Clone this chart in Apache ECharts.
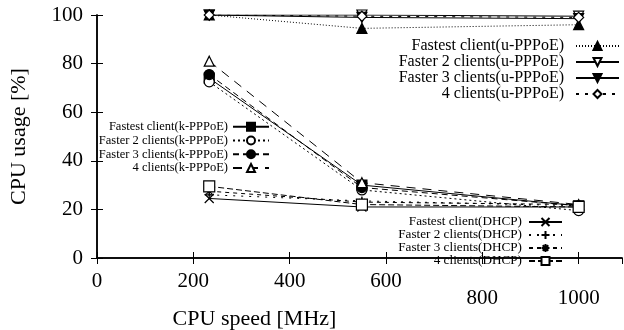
<!DOCTYPE html>
<html>
<head>
<meta charset="utf-8">
<script src="https://cdn.jsdelivr.net/npm/echarts@6/dist/echarts.min.js"></script>
<style>
  html, body { margin: 0; padding: 0; background: #fff; }
  #main { width: 624px; height: 330px; }
</style>
</head>
<body>
<div id="main"></div>
<script>
var cpuSpeed = [233, 550, 1000];
var xTicks = [0, 200, 400, 600, 800, 1000];

// u-PPPoE
var uFastest = [100, 94.5, 96];
var uFaster2 = [100, 100, 99.5];
var uFaster3 = [100, 99, 98.5];
var uFour = [100, 99.5, 99];
// k-PPPoE
var kFastest = [74, 30, 21.5];
var kFaster2 = [72.5, 28, 19.5];
var kFaster3 = [75.5, 29, 21.5];
var kFour = [81, 31, 22];
// DHCP
var dFastest = [24.5, 21, 21];
var dFaster2 = [26, 23.5, 21.5];
var dFaster3 = [27.5, 23, 22];
var dFour = [29.5, 22, 21];

var FONT = "'Liberation Serif', 'DejaVu Serif', serif";
var CROSS = 'path://M0,0L10,10M10,0L0,10';
var PLUS = 'path://M5,0L5,10M0,5L10,5';
var STAR = 'path://M5,0L5,10M0,5L10,5M1.5,1.5L8.5,8.5M8.5,1.5L1.5,8.5';

function pairs(vals) {
    return cpuSpeed.map(function (x, i) { return [x, vals[i]]; });
}

function mk(name, vals, symbol, filled, dash, rotate, size) {
    return {
        name: name,
        type: 'line',
        data: pairs(vals),
        symbol: symbol,
        symbolSize: size || 10,
        symbolRotate: rotate || 0,
        showSymbol: true,
        animation: false,
        lineStyle: { color: '#000', width: 1, type: dash },
        itemStyle: {
            color: filled ? '#000' : '#fff',
            borderColor: '#000',
            borderWidth: 1.2
        },
        emphasis: { disabled: true }
    };
}

var series = [
    mk('Fastest client(u-PPPoE)', uFastest, 'triangle', true, [1, 2]),
    mk('Faster 2 clients(u-PPPoE)', uFaster2, 'triangle', false, 'solid', 180),
    mk('Faster 3 clients(u-PPPoE)', uFaster3, 'triangle', true, 'solid', 180),
    mk('4 clients(u-PPPoE)', uFour, 'diamond', false, [3, 6]),
    mk('Fastest client(k-PPPoE)', kFastest, 'rect', true, 'solid'),
    mk('Faster 2 clients(k-PPPoE)', kFaster2, 'circle', false, [2, 3]),
    mk('Faster 3 clients(k-PPPoE)', kFaster3, 'circle', true, [6, 4]),
    mk('4 clients(k-PPPoE)', kFour, 'triangle', false, [9, 7]),
    mk('Fastest client(DHCP)', dFastest, CROSS, true, 'solid', 0, 9),
    mk('Faster 2 clients(DHCP)', dFaster2, PLUS, true, [2, 6], 0, 9),
    mk('Faster 3 clients(DHCP)', dFaster3, STAR, true, [4, 4], 0, 9),
    mk('4 clients(DHCP)', dFour, 'rect', false, [6, 3], 0, 11)
];

function legend(names, right, top, fontSize, lineH, width, pad) {
    return {
        data: names,
        orient: 'vertical',
        align: 'right',
        right: right,
        top: top,
        itemGap: 0,
        itemWidth: width,
        itemHeight: 10,
        padding: 0,
        selectedMode: false,
        textStyle: {
            fontFamily: FONT,
            fontSize: fontSize,
            lineHeight: lineH,
            color: '#000',
            padding: [0, pad, 0, 0]
        }
    };
}

var axisTick = { inside: true, length: 6, lineStyle: { color: '#000', width: 1 } };
var axisLine = { show: true, lineStyle: { color: '#000', width: 1.5 } };

var chart = echarts.init(document.getElementById('main'));
chart.setOption({
    backgroundColor: '#fff',
    animation: false,
    grid: { left: 97, top: 15, width: 525, height: 243, containLabel: false, outerBoundsMode: 'none' },
    legend: [
        legend(series.slice(0, 4).map(function (s) { return s.name; }), 4, 38, 16, 14.4, 43, 7),
        legend(series.slice(4, 8).map(function (s) { return s.name; }), 354, 120, 12.5, 13.7, 36, 0),
        legend(series.slice(8, 12).map(function (s) { return s.name; }), 61, 215.5, 13.2, 12.7, 33, 2)
    ],
    xAxis: [{
        type: 'value',
        min: 0,
        max: 1090,
        interval: 200,
        position: 'bottom',
        name: 'CPU speed [MHz]',
        nameLocation: 'middle',
        nameGap: 50,
        nameMoveOverlap: false,
        nameTextStyle: { fontFamily: FONT, fontSize: 22, color: '#000', padding: [0, 210, 0, 0] },
        axisLine: axisLine,
        axisTick: axisTick,
        splitLine: { show: false },
        axisLabel: {
            margin: 13,
            showMaxLabel: false,
            fontFamily: FONT,
            fontSize: 21,
            color: '#000',
            formatter: function (v) {
                if (xTicks.indexOf(v) < 0) return '';
                return v >= 800 ? '{lo|' + v + '}' : String(v);
            },
            rich: { lo: { fontFamily: FONT, fontSize: 21, color: '#000', padding: [17, 0, 0, 0] } }
        }
    }, {
        type: 'value',
        min: 0,
        max: 1090,
        interval: 200,
        position: 'top',
        axisLine: axisLine,
        axisTick: axisTick,
        axisLabel: { show: false },
        splitLine: { show: false }
    }],
    yAxis: [{
        type: 'value',
        min: 0,
        max: 100,
        interval: 20,
        position: 'left',
        name: 'CPU usage [%]',
        nameLocation: 'middle',
        nameGap: 67,
        nameMoveOverlap: false,
        nameTextStyle: { fontFamily: FONT, fontSize: 22, color: '#000' },
        axisLine: axisLine,
        axisTick: axisTick,
        splitLine: { show: false },
        axisLabel: { margin: 14, fontFamily: FONT, fontSize: 21, color: '#000' }
    }, {
        type: 'value',
        min: 0,
        max: 100,
        interval: 20,
        position: 'right',
        axisLine: axisLine,
        axisTick: axisTick,
        axisLabel: { show: false },
        splitLine: { show: false }
    }],
    series: series
});
</script>
</body>
</html>
